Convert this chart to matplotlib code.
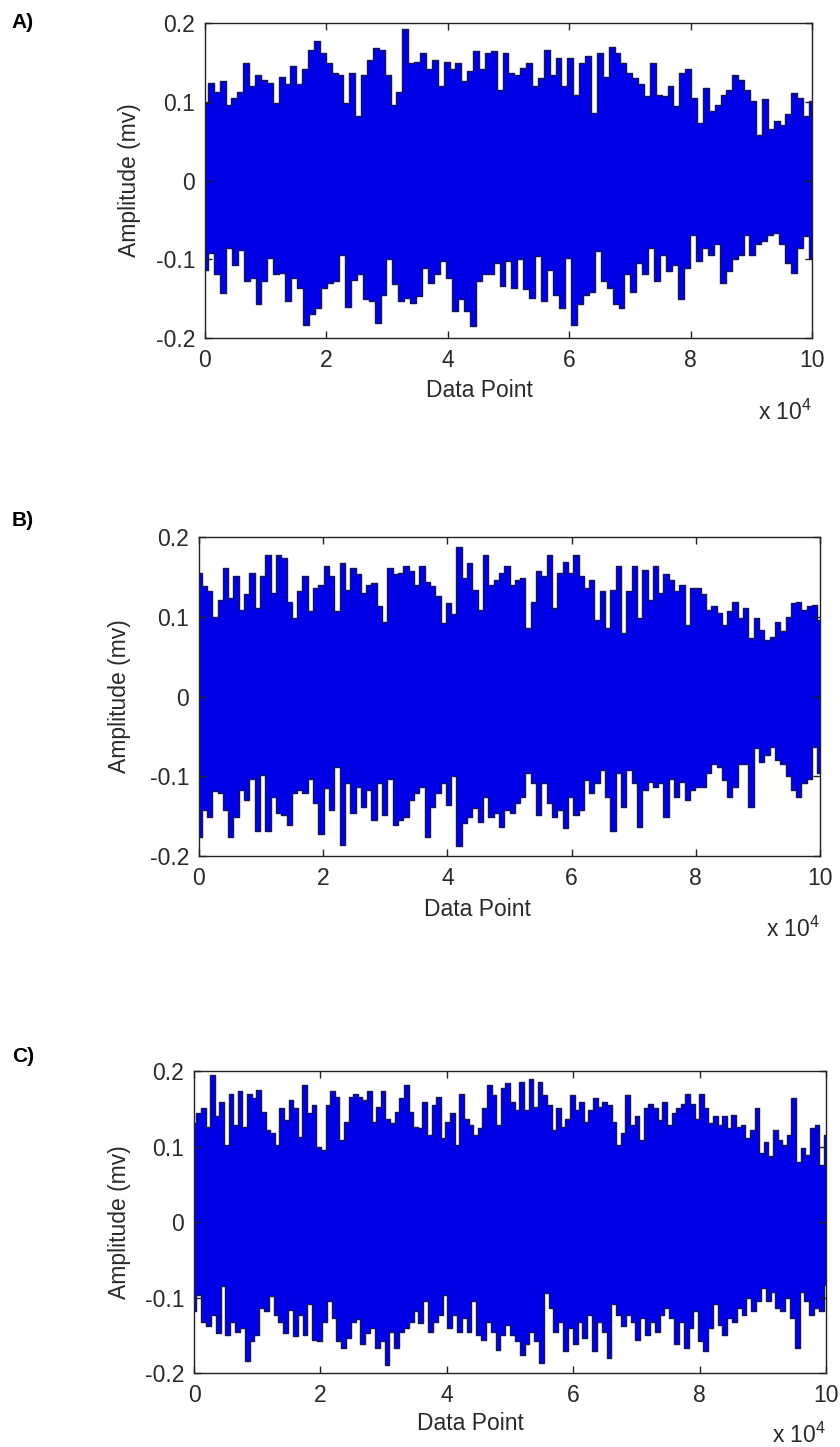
import numpy as np
import matplotlib
matplotlib.use("Agg")
import matplotlib.pyplot as plt

plt.rcParams["font.family"] = ["Liberation Sans", "DejaVu Sans"]
plt.rcParams["mathtext.fontset"] = "custom"
plt.rcParams["mathtext.rm"] = "Liberation Sans"
plt.rcParams["mathtext.it"] = "Liberation Sans:italic"

# peak envelopes (mv), evenly spread over 0..1e5 points
a_upper = [0.098, 0.124, 0.113, 0.126, 0.096, 0.105, 0.113, 0.149, 0.12, 0.134, 0.128, 0.124, 0.098,
           0.132, 0.122, 0.145, 0.122, 0.141, 0.166, 0.177, 0.162, 0.149, 0.137, 0.134, 0.098, 0.137,
           0.082, 0.134, 0.153, 0.168, 0.166, 0.134, 0.096, 0.113, 0.192, 0.149, 0.151, 0.162, 0.141,
           0.153, 0.12, 0.151, 0.141, 0.149, 0.126, 0.139, 0.164, 0.141, 0.162, 0.164, 0.115,
           0.162, 0.137, 0.134, 0.143, 0.149, 0.12, 0.130, 0.166, 0.134, 0.156, 0.12, 0.156, 0.109,
           0.149, 0.158, 0.086, 0.162, 0.132, 0.170, 0.162, 0.149, 0.137, 0.130, 0.122, 0.107, 0.149,
           0.109, 0.107, 0.12, 0.094, 0.137, 0.141, 0.105, 0.073, 0.118, 0.088, 0.096, 0.109, 0.115,
           0.134, 0.128, 0.115, 0.101, 0.058, 0.103, 0.065, 0.075, 0.071, 0.084, 0.111, 0.105, 0.082,
           0.101]
a_lower = [-0.113, -0.092, -0.119, -0.143, -0.086, -0.107, -0.088, -0.128, -0.124, -0.157, -0.128,
           -0.098, -0.119, -0.117, -0.153, -0.124, -0.136, -0.183, -0.170, -0.162, -0.136, -0.130,
           -0.128, -0.094, -0.160, -0.126, -0.119, -0.151, -0.153, -0.181, -0.145, -0.100, -0.132,
           -0.153, -0.149, -0.155, -0.147, -0.111, -0.130, -0.119, -0.102, -0.124, -0.166, -0.151,
           -0.166, -0.185, -0.128, -0.119, -0.119, -0.105, -0.134,
           -0.102, -0.136, -0.100, -0.138, -0.149, -0.096, -0.153, -0.113, -0.145, -0.162, -0.098,
           -0.183, -0.157, -0.145, -0.141, -0.090, -0.128, -0.136, -0.157, -0.162, -0.119, -0.141,
           -0.105, -0.119, -0.086, -0.128, -0.094, -0.115, -0.107, -0.151, -0.111, -0.069, -0.102,
           -0.086, -0.094, -0.081, -0.130, -0.115, -0.100, -0.094, -0.069, -0.094, -0.081, -0.077,
           -0.069, -0.067, -0.081, -0.105, -0.117, -0.086, -0.071, -0.098]

b_upper = [0.155, 0.138, 0.132, 0.100, 0.121, 0.161, 0.123, 0.151, 0.109, 0.128, 0.155, 0.111, 0.151,
           0.178, 0.130, 0.178, 0.174, 0.119, 0.098, 0.132, 0.151, 0.107, 0.136, 0.140, 0.163, 0.151,
           0.107, 0.167, 0.134, 0.161, 0.153, 0.130, 0.140, 0.142, 0.113, 0.094, 0.161, 0.153, 0.155,
           0.163, 0.157, 0.140, 0.163, 0.144, 0.138, 0.126, 0.092, 0.117, 0.103, 0.188, 0.149, 0.167,
           0.134, 0.109, 0.178, 0.140, 0.146, 0.155, 0.163,
           0.140, 0.146, 0.149, 0.086, 0.119, 0.157, 0.151, 0.178, 0.111, 0.155, 0.169, 0.155, 0.178,
           0.151, 0.136, 0.146, 0.096, 0.132, 0.086, 0.134, 0.163, 0.080, 0.132, 0.163, 0.098, 0.159,
           0.121, 0.163, 0.130, 0.153, 0.146, 0.132, 0.140, 0.090, 0.136, 0.136, 0.128, 0.109, 0.113,
           0.105, 0.090, 0.107, 0.119, 0.098, 0.111, 0.073, 0.098, 0.084, 0.071, 0.075, 0.094, 0.082,
           0.100, 0.117, 0.119, 0.109, 0.113, 0.115, 0.096]
b_lower = [-0.176, -0.142, -0.151, -0.119, -0.121, -0.142, -0.176, -0.151, -0.117, -0.130, -0.103,
           -0.169, -0.098, -0.169, -0.126, -0.146, -0.149, -0.161, -0.121, -0.117, -0.121, -0.103,
           -0.134, -0.172, -0.115, -0.142, -0.088, -0.186, -0.109, -0.146, -0.113, -0.138, -0.117,
           -0.155, -0.109, -0.149, -0.103, -0.161, -0.155, -0.151, -0.130, -0.121, -0.113, -0.176,
           -0.138, -0.121, -0.109, -0.136, -0.100, -0.188, -0.159, -0.151, -0.140, -0.157, -0.126,
           -0.151, -0.146, -0.163, -0.142,
           -0.146, -0.134, -0.126, -0.096, -0.109, -0.149, -0.109, -0.134, -0.151, -0.142, -0.165,
           -0.126, -0.149, -0.142, -0.105, -0.121, -0.109, -0.092, -0.126, -0.169, -0.096, -0.138,
           -0.092, -0.109, -0.163, -0.117, -0.107, -0.113, -0.109, -0.151, -0.103, -0.126, -0.107,
           -0.130, -0.117, -0.113, -0.113, -0.096, -0.084, -0.088, -0.105, -0.126, -0.113, -0.084,
           -0.084, -0.138, -0.065, -0.082, -0.073, -0.063, -0.080, -0.084, -0.100, -0.117, -0.126,
           -0.109, -0.103, -0.063, -0.096]

c_upper = [0.131, 0.144, 0.151, 0.126, 0.195, 0.140, 0.159, 0.102, 0.170, 0.129, 0.173, 0.126, 0.170,
           0.164, 0.175, 0.146, 0.122, 0.118, 0.102, 0.151, 0.135, 0.162, 0.151, 0.113, 0.181, 0.144,
           0.155, 0.100, 0.095, 0.155, 0.173, 0.166, 0.109, 0.133, 0.166, 0.170, 0.166, 0.162, 0.173,
           0.133, 0.153, 0.173, 0.137, 0.131, 0.146, 0.164, 0.181, 0.146, 0.126, 0.124, 0.159, 0.115,
           0.155, 0.166, 0.111, 0.133, 0.144, 0.102, 0.170, 0.137, 0.129, 0.115, 0.124, 0.151, 0.181,
           0.168, 0.129, 0.177, 0.184, 0.159,
           0.148, 0.186, 0.148, 0.190, 0.153, 0.186, 0.168, 0.155, 0.122, 0.151, 0.126, 0.137, 0.168,
           0.148, 0.159, 0.133, 0.148, 0.164, 0.153, 0.159, 0.155, 0.133, 0.102, 0.118, 0.168, 0.129,
           0.140, 0.109, 0.151, 0.157, 0.151, 0.135, 0.159, 0.129, 0.144, 0.151, 0.157, 0.170, 0.157,
           0.137, 0.170, 0.151, 0.131, 0.140, 0.129, 0.140, 0.124, 0.142, 0.126, 0.129, 0.111, 0.122,
           0.151, 0.091, 0.106, 0.087, 0.122, 0.109, 0.102, 0.115, 0.164, 0.080, 0.098, 0.089, 0.124,
           0.129, 0.076, 0.115]
c_lower = [-0.118, -0.096, -0.132, -0.138, -0.123, -0.147, -0.085, -0.149, -0.132, -0.145, -0.140,
           -0.184, -0.158, -0.149, -0.114, -0.118, -0.098, -0.123, -0.132, -0.147, -0.116, -0.151,
           -0.123, -0.149, -0.109, -0.156, -0.158, -0.132, -0.105, -0.127, -0.158, -0.167, -0.154,
           -0.132, -0.129, -0.162, -0.147, -0.140, -0.167, -0.158, -0.189, -0.145, -0.167, -0.145,
           -0.140, -0.132, -0.118, -0.134, -0.105, -0.145, -0.132, -0.123, -0.096, -0.140, -0.123,
           -0.145, -0.127, -0.145, -0.105, -0.149, -0.156, -0.132, -0.145, -0.169, -0.149, -0.136,
           -0.149, -0.158, -0.176, -0.162, -0.145, -0.158, -0.187, -0.094, -0.114, -0.145, -0.132,
           -0.171, -0.140, -0.162, -0.132, -0.154, -0.123, -0.171, -0.132, -0.145, -0.180, -0.109,
           -0.123, -0.138, -0.123, -0.132, -0.156, -0.127, -0.149, -0.132, -0.145, -0.123, -0.114,
           -0.127, -0.162, -0.132, -0.167, -0.140, -0.118, -0.158, -0.171, -0.140, -0.109, -0.136,
           -0.149, -0.127, -0.132, -0.114, -0.123, -0.101, -0.118, -0.105, -0.087, -0.105, -0.092,
           -0.114, -0.118, -0.101, -0.127, -0.167, -0.092, -0.105, -0.123, -0.114, -0.118, -0.083]

panels = ["A)", "B)", "C)"]
x_ticks = [0, 2e4, 4e4, 6e4, 8e4, 10e4]
x_ticklabels = ["0", "2", "4", "6", "8", "10"]
y_ticks = [-0.2, -0.1, 0, 0.1, 0.2]
y_ticklabels = ["-0.2", "-0.1", "0", "0.1", "0.2"]

# layout (figure / axes fractions)
rects = [
    [0.2440, 0.7664, 0.7226, 0.2177],
    [0.2369, 0.4084, 0.7393, 0.2205],
    [0.2310, 0.0511, 0.7524, 0.2087],
]
panel_label_y = [1 - 23 / 1447, 1 - 521 / 1447, 1 - 1057 / 1447]
xlabel_x = [0.453, 0.448, 0.437]
ylabel_x = [-0.105, -0.11, -0.10]
exp_y = [-0.260, -0.254, -0.232]

fill_c = "#0000e6"
edge_c = "#15155a"
text_c = "#2a2a2a"
fs = 16.5

fig = plt.figure(figsize=(8.4, 14.47), dpi=100)

for i, (up, lo) in enumerate([(a_upper, a_lower), (b_upper, b_lower), (c_upper, c_lower)]):
    ax = fig.add_axes(rects[i])
    xu = np.linspace(0, 1e5, len(up))
    xl = np.linspace(0, 1e5, len(lo))
    ax.fill_between(xu, -0.01, up, step="mid", color=fill_c, lw=0)
    ax.fill_between(xl, lo, 0.01, step="mid", color=fill_c, lw=0)
    ax.step(xu, up, where="mid", color=edge_c, lw=1.0)
    ax.step(xl, lo, where="mid", color=edge_c, lw=1.0)

    ax.set_xlim(0, 1e5)
    ax.set_ylim(-0.2, 0.2)
    ax.set_xticks(x_ticks)
    ax.set_xticklabels(x_ticklabels)
    ax.set_yticks(y_ticks)
    ax.set_yticklabels(y_ticklabels)
    ax.tick_params(direction="in", length=5, width=1, top=True, right=True,
                   labelsize=fs, colors="#222222", labelcolor=text_c)
    ax.tick_params(axis="x", pad=8)
    ax.tick_params(axis="y", pad=7)
    for s in ax.spines.values():
        s.set_linewidth(1)
        s.set_color("#222222")

    ax.set_xlabel("Data Point", fontsize=fs, color=text_c)
    ax.xaxis.set_label_coords(xlabel_x[i], -0.13)
    ax.set_ylabel("Amplitude (mv)", fontsize=fs, color=text_c)
    ax.yaxis.set_label_coords(ylabel_x[i], 0.5)
    ax.text(1.0, exp_y[i], r"x 10$^{4}$", transform=ax.transAxes, ha="right", va="baseline",
            fontsize=fs, color=text_c)

    fig.text(0.014, panel_label_y[i], panels[i], fontsize=15, fontweight="bold", va="center")

fig.savefig("out.png", dpi=100)
